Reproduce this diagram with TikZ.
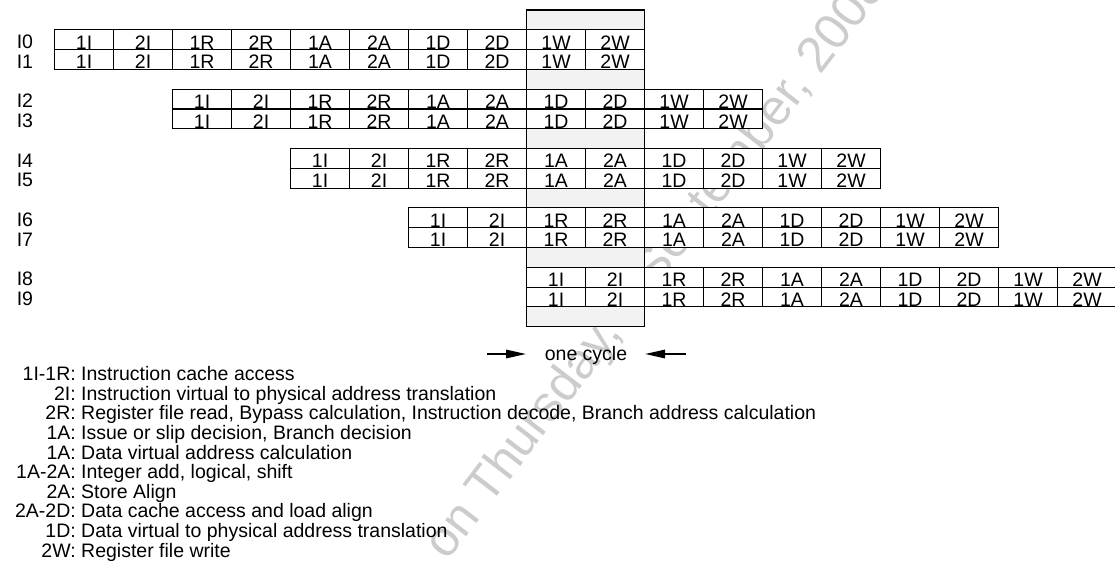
\documentclass[tikz,border=0pt]{standalone}
\usepackage{fontspec}
\setmainfont{Liberation Sans}
\usetikzlibrary{arrows.meta}
\begin{document}
\begin{tikzpicture}[x=1pt,y=-1pt,
  txt/.style={font=\fontsize{19.5}{19.5}\selectfont, inner sep=0pt},
  cellbox/.style={txt, draw=black, line width=1.1pt, fill=white,
    minimum width=59pt, minimum height=19.8pt, anchor=north west,
    text height=18.6pt, text depth=0pt},
  rowlab/.style={txt, anchor=base west},
  keylab/.style={txt, anchor=base east},
  keytxt/.style={txt, anchor=base west},
  cyc/.style={line width=1.6pt, -{Triangle[length=20pt,width=8.5pt]}},
  wmark/.style={font=\fontsize{50}{50}\selectfont, text=black!20, inner sep=0pt}]
\useasboundingbox (0,0) rectangle (1115,563);
% watermark (behind everything)
\node[wmark, rotate=52.5, anchor=base west] (wm) at (447,562) {on Thursday, 4 September, 2008};
% one-cycle column
\node[draw=black, line width=1.1pt, fill=black!5, minimum width=118pt, minimum height=316.7pt,
      anchor=north west, inner sep=0pt] (gray) at (526,9.4) {};
% pipeline rows
\foreach \p in {0,...,4}{
  \foreach \q in {0,1}{
    \pgfmathsetmacro\yy{29.3+59.35*\p+19.8*\q}
    \pgfmathsetmacro\yb{29.3+59.35*\p+19.8*\q+19.0}
    \pgfmathtruncatemacro\rr{2*\p+\q}
    \node[rowlab] (lab\rr) at (16.6,\yb) {I\rr};
    \foreach \lab [count=\j from 0] in {1I,2I,1R,2R,1A,2A,1D,2D,1W,2W}{
      \pgfmathsetmacro\xx{54+59*(2*\p+\j)}
      \node[cellbox] (r\rr-\j) at (\xx,\yy) {\lab};
    }
  }
}
% one cycle marker
\coordinate (al) at (487,354);
\coordinate (ar) at (686,354);
\draw[cyc] (al) -- (gray.west |- al);
\draw[cyc] (ar) -- (gray.east |- ar);
\node[txt, anchor=base] (oc) at (586,360.7) {one cycle};
% legend
\node[keylab] (k0) at (76,380.7) {1I-1R:};
\node[keytxt] (d0) at (81,380.7) {Instruction cache access};
\node[keylab] (k1) at (76,400.3) {2I:};
\node[keytxt] (d1) at (81,400.3) {Instruction virtual to physical address translation};
\node[keylab] (k2) at (76,419.9) {2R:};
\node[keytxt] (d2) at (81,419.9) {Register file read, Bypass calculation, Instruction decode, Branch address calculation};
\node[keylab] (k3) at (76,439.5) {1A:};
\node[keytxt] (d3) at (81,439.5) {Issue or slip decision, Branch decision};
\node[keylab] (k4) at (76,459.1) {1A:};
\node[keytxt] (d4) at (81,459.1) {Data virtual address calculation};
\node[keylab] (k5) at (76,478.7) {1A-2A:};
\node[keytxt] (d5) at (81,478.7) {Integer add, logical, shift};
\node[keylab] (k6) at (76,498.3) {2A:};
\node[keytxt] (d6) at (81,498.3) {Store Align};
\node[keylab] (k7) at (76,517.9) {2A-2D:};
\node[keytxt] (d7) at (81,517.9) {Data cache access and load align};
\node[keylab] (k8) at (76,537.5) {1D:};
\node[keytxt] (d8) at (81,537.5) {Data virtual to physical address translation};
\node[keylab] (k9) at (76,557.1) {2W:};
\node[keytxt] (d9) at (81,557.1) {Register file write};
\end{tikzpicture}
\end{document}
